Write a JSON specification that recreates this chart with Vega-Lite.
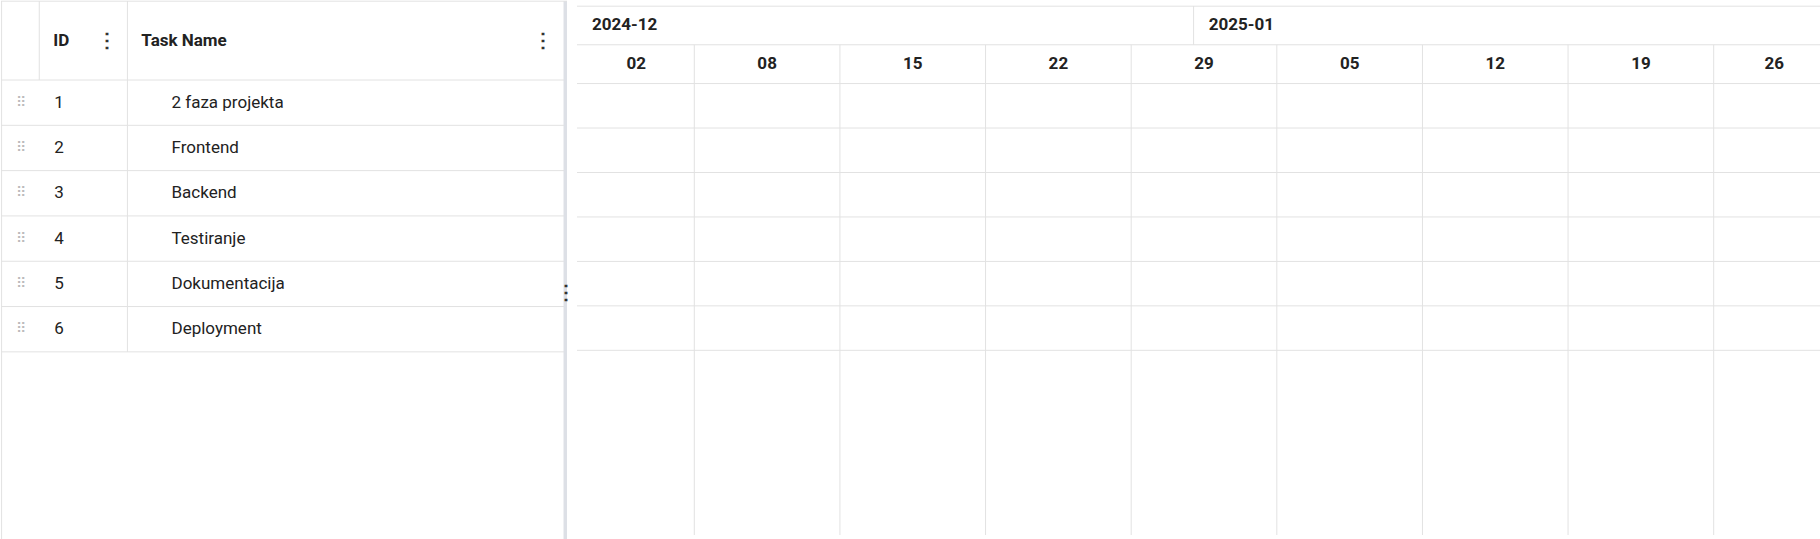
{
  "$schema": "https://vega.github.io/schema/vega-lite/v6.json",
  "padding": 0,
  "spacing": 0,
  "background": "white",
  "config": {"view": {"stroke": null}, "font": "Roboto"},
  "datasets": {
    "tasks": [
      {"id": 1, "name": "2 faza projekta", "start": "2024-12-09T10:00:00", "end": "2025-01-24T17:00:00", "color": "#0000b3", "stroke": "#00007a"},
      {"id": 2, "name": "Frontend", "start": "2024-12-14T10:00:00", "end": "2025-01-16T17:00:00", "color": "#8800ff", "stroke": "#5c00b0"},
      {"id": 3, "name": "Backend", "start": "2024-12-24T10:00:00", "end": "2025-01-20T17:00:00", "color": "#ff00ff", "stroke": "#b000b0"},
      {"id": 4, "name": "Testiranje", "start": "2025-01-15T10:00:00", "end": "2025-01-20T17:00:00", "color": "#ff0080", "stroke": "#b00058"},
      {"id": 5, "name": "Dokumentacija", "start": "2025-01-07T10:00:00", "end": "2025-01-24T17:00:00", "color": "#ff8000", "stroke": "#b05800"},
      {"id": 6, "name": "Deployment", "start": "2025-01-23T10:00:00", "end": "2025-01-24T17:00:00", "color": "#ffff00", "stroke": "#b0b000"}
    ],
    "rowLines": [{"y": 0.5}, {"y": 1.5}, {"y": 2.5}, {"y": 3.5}, {"y": 4.5}, {"y": 5.5}, {"y": 6.5}],
    "weeks": [
      {"d": "2024-12-08T00:00:00"}, {"d": "2024-12-15T00:00:00"}, {"d": "2024-12-22T00:00:00"},
      {"d": "2024-12-29T00:00:00"}, {"d": "2025-01-05T00:00:00"}, {"d": "2025-01-12T00:00:00"},
      {"d": "2025-01-19T00:00:00"}, {"d": "2025-01-26T00:00:00"}
    ],
    "weekLabels": [
      {"d": "2024-12-05T05:00:00", "t": "02"}, {"d": "2024-12-11T12:00:00", "t": "08"},
      {"d": "2024-12-18T12:00:00", "t": "15"}, {"d": "2024-12-25T12:00:00", "t": "22"},
      {"d": "2025-01-01T12:00:00", "t": "29"}, {"d": "2025-01-08T12:00:00", "t": "05"},
      {"d": "2025-01-15T12:00:00", "t": "12"}, {"d": "2025-01-22T12:00:00", "t": "19"},
      {"d": "2025-01-28T22:00:00", "t": "26"}
    ],
    "months": [
      {"d": "2024-12-03T02:00:00", "t": "2024-12"}, {"d": "2025-01-01T17:30:00", "t": "2025-01"}
    ],
    "cols": [
      {"c": "handle", "x": 33, "y0": -1.244, "y1": 0.5},
      {"c": "id", "x": 109, "y0": -1.244, "y1": 6.5}
    ],
    "heads": [
      {"x": 45, "t": "ID"}, {"x": 121, "t": "Task Name"}
    ],
    "kebab": [{"x": 91, "y": -0.372}, {"x": 467, "y": -0.372}, {"x": 487, "y": 5.2}]
  },
  "hconcat": [
    {
      "width": 566, "height": 539,
      "layer": [
        {"data": {"name": "rowLines"}, "mark": {"type": "rule", "color": "#e2e2e2"},
         "encoding": {"y": {"field": "y", "type": "quantitative", "scale": {"domain": [-1.244, 10.653], "reverse": true, "nice": false, "zero": false}, "axis": null}}},
        {"data": {"name": "cols"}, "mark": {"type": "rule", "color": "#e2e2e2"},
         "encoding": {"x": {"field": "x", "type": "quantitative", "scale": {"domain": [0, 488], "nice": false, "zero": false}, "axis": null},
                      "y": {"field": "y0", "type": "quantitative"}, "y2": {"field": "y1"}}},
        {"data": {"values": [{"x0": 485, "x1": 488}]}, "mark": {"type": "rect", "color": "#dde0e6"},
         "encoding": {"x": {"field": "x0", "type": "quantitative"}, "x2": {"field": "x1"}, "y": {"datum": -1.244}, "y2": {"datum": 10.653}}},
        {"data": {"values": [{"x": 0.5}]}, "mark": {"type": "rule", "color": "#e2e2e2"},
         "encoding": {"x": {"field": "x", "type": "quantitative"}}},
        {"data": {"values": [{"y": -1.24}]}, "mark": {"type": "rule", "color": "#e2e2e2"},
         "encoding": {"y": {"field": "y", "type": "quantitative"}}},
        {"data": {"name": "heads"}, "mark": {"type": "text", "align": "left", "fontWeight": "bold", "fontSize": 17, "color": "#222"},
         "encoding": {"x": {"field": "x", "type": "quantitative"}, "y": {"datum": -0.372}, "text": {"field": "t"}}},
        {"data": {"name": "kebab"}, "mark": {"type": "text", "fontWeight": "bold", "fontSize": 20, "color": "#333"},
         "encoding": {"x": {"field": "x", "type": "quantitative"}, "y": {"field": "y", "type": "quantitative"}, "text": {"value": "⋮"}}},
        {"data": {"name": "tasks"}, "mark": {"type": "text", "fontSize": 14, "color": "#bbb"},
         "encoding": {"x": {"datum": 17}, "y": {"field": "id", "type": "quantitative"}, "text": {"value": "⠿"}}},
        {"data": {"name": "tasks"}, "mark": {"type": "text", "align": "left", "fontSize": 17, "color": "#222"},
         "encoding": {"x": {"datum": 46}, "y": {"field": "id", "type": "quantitative"}, "text": {"field": "id"}}},
        {"data": {"name": "tasks"}, "mark": {"type": "text", "align": "left", "fontSize": 17, "color": "#222"},
         "encoding": {"x": {"datum": 147}, "y": {"field": "id", "type": "quantitative"}, "text": {"field": "name"}}}
      ]
    },
    {
      "width": 1254, "height": 539,
      "layer": [
        {"data": {"name": "rowLines"}, "mark": {"type": "rule", "color": "#e2e2e2"},
         "encoding": {"y": {"field": "y", "type": "quantitative", "scale": {"domain": [-1.244, 10.653], "reverse": true, "nice": false, "zero": false}, "axis": null}}},
        {"data": {"values": [{"y": -0.372}, {"y": -1.24}]}, "mark": {"type": "rule", "color": "#e2e2e2"},
         "encoding": {"y": {"field": "y", "type": "quantitative"}}},
        {"data": {"name": "weeks"}, "mark": {"type": "rule", "color": "#e2e2e2"},
         "encoding": {"x": {"field": "d", "type": "temporal", "scale": {"domain": ["2024-12-02T08:40:00", "2025-01-31T15:20:00"], "nice": false}, "axis": null},
                      "y": {"datum": -0.372}, "y2": {"datum": 10.653}}},
        {"data": {"values": [{"d": "2025-01-01T00:00:00"}]}, "mark": {"type": "rule", "color": "#e2e2e2"},
         "encoding": {"x": {"field": "d", "type": "temporal"}, "y": {"datum": -1.244}, "y2": {"datum": -0.372}}},
        {"data": {"name": "months"}, "mark": {"type": "text", "align": "left", "fontWeight": "bold", "fontSize": 17, "color": "#222"},
         "encoding": {"x": {"field": "d", "type": "temporal"}, "y": {"datum": -0.808}, "text": {"field": "t"}}},
        {"data": {"name": "weekLabels"}, "mark": {"type": "text", "fontWeight": "bold", "fontSize": 17, "color": "#222"},
         "encoding": {"x": {"field": "d", "type": "temporal"}, "y": {"datum": 0.064}, "text": {"field": "t"}}},
        {"data": {"name": "tasks"}, "mark": {"type": "bar", "height": 27, "cornerRadius": 4, "strokeWidth": 1},
         "encoding": {"x": {"field": "start", "type": "temporal"}, "x2": {"field": "end"},
                      "y": {"field": "id", "type": "quantitative"},
                      "fill": {"field": "color", "type": "nominal", "scale": null},
                      "stroke": {"field": "stroke", "type": "nominal", "scale": null}}}
      ]
    }
  ]
}
